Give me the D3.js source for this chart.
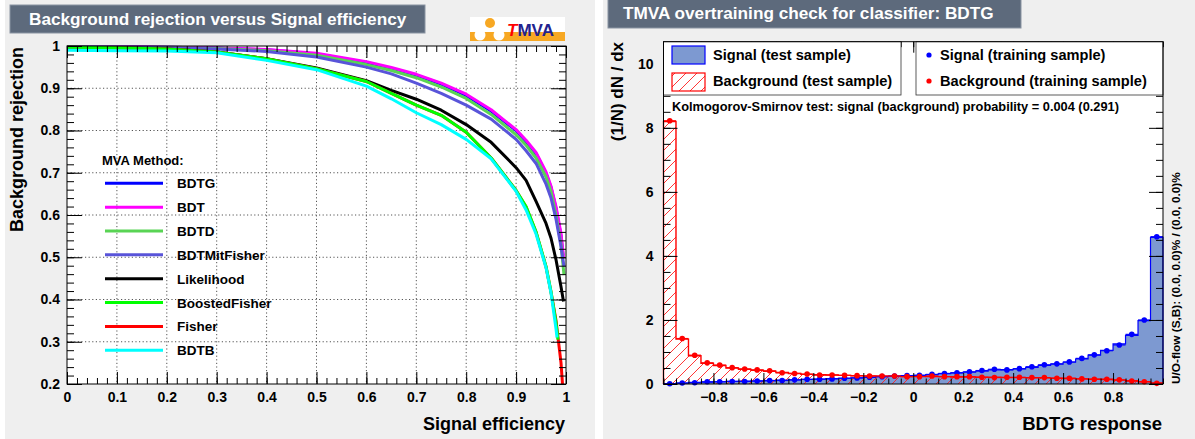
<!DOCTYPE html>
<html>
<head>
<meta charset="utf-8">
<script src="https://cdn.jsdelivr.net/npm/d3@7"></script>
<style>
  body { margin: 0; background: #fff; }
  text { font-family: "Liberation Sans", Arial, Helvetica, sans-serif; font-weight: bold; }
</style>
</head>
<body>
<div id="chart"></div>
<script>
// ---------- left: ROC curves ----------
const methods = ["BDTG", "BDT", "BDTD", "BDTMitFisher", "Likelihood", "BoostedFisher", "Fisher", "BDTB"];
const methodColors = ["#0000ff", "#ff00ff", "#59d454", "#5954d9", "#000000", "#00ff00", "#ff0000", "#00ffff"];
const drawOrder = [0, 1, 2, 3, 4, 6, 5, 7];

const rocEff = [0, 0.1, 0.2, 0.3, 0.4, 0.5, 0.6, 0.65, 0.7, 0.75, 0.8, 0.85, 0.9, 0.92, 0.94, 0.96, 0.97, 0.98, 0.99];
const rejBDTG = [0.999, 0.998, 0.997, 0.995, 0.991, 0.981, 0.961, 0.947, 0.931, 0.910, 0.883, 0.846, 0.800, 0.774, 0.745, 0.698, 0.665, 0.615, 0.550];
const rejBDT = [0.999, 0.998, 0.997, 0.995, 0.992, 0.983, 0.963, 0.949, 0.933, 0.912, 0.886, 0.849, 0.802, 0.777, 0.748, 0.702, 0.668, 0.620, 0.556];
const rejBDTD = [0.998, 0.997, 0.996, 0.994, 0.989, 0.978, 0.956, 0.942, 0.925, 0.903, 0.876, 0.838, 0.790, 0.765, 0.735, 0.690, 0.655, 0.600, 0.530];
const rejBDTMitFisher = [0.998, 0.997, 0.996, 0.993, 0.987, 0.974, 0.950, 0.934, 0.912, 0.888, 0.860, 0.827, 0.779, 0.752, 0.722, 0.673, 0.640, 0.590, 0.525];
const rejLikelihood = [0.997, 0.996, 0.993, 0.986, 0.970, 0.948, 0.918, 0.895, 0.874, 0.848, 0.814, 0.772, 0.712, 0.682, 0.632, 0.580, 0.545, 0.494, 0.430];
const rejBoostedFisher = [0.997, 0.996, 0.993, 0.986, 0.970, 0.946, 0.916, 0.888, 0.860, 0.836, 0.796, 0.735, 0.658, 0.620, 0.560, 0.478, 0.418, 0.345, null];
const rejFisher = [0.997, 0.996, 0.993, 0.986, 0.970, 0.946, 0.916, 0.888, 0.860, 0.836, 0.796, 0.735, 0.658, 0.619, 0.559, 0.477, 0.417, 0.350, 0.250];
const rejBDTB = [0.990, 0.989, 0.988, 0.984, 0.966, 0.944, 0.905, 0.875, 0.842, 0.814, 0.779, 0.733, 0.656, 0.612, 0.555, 0.475, 0.415, 0.330, null];
const rocEndEff = [0.994, 0.995, 0.996, 0.996, 0.995, 0.984, 0.993, 0.982];
const rocEndRej = [0.505, 0.500, 0.458, 0.478, 0.395, 0.305, 0.200, 0.310];
const rocRej = [rejBDTG, rejBDT, rejBDTD, rejBDTMitFisher, rejLikelihood, rejBoostedFisher, rejFisher, rejBDTB];

// ---------- right: overtraining check, 40 bins on [-1, 1] ----------
const sigTest = [0.01, 0.03, 0.05, 0.06, 0.07, 0.08, 0.09, 0.10, 0.10, 0.12, 0.13, 0.14, 0.15, 0.17, 0.18, 0.19, 0.21, 0.23, 0.24, 0.26,
                 0.27, 0.29, 0.32, 0.35, 0.37, 0.40, 0.44, 0.45, 0.47, 0.52, 0.58, 0.62, 0.68, 0.78, 0.90, 1.05, 1.25, 1.52, 1.98, 4.58];
const sigTrain = [0.01, 0.03, 0.04, 0.07, 0.07, 0.08, 0.08, 0.09, 0.11, 0.11, 0.13, 0.15, 0.15, 0.16, 0.18, 0.19, 0.21, 0.23, 0.25, 0.26,
                  0.27, 0.30, 0.33, 0.35, 0.38, 0.42, 0.46, 0.44, 0.48, 0.54, 0.60, 0.63, 0.69, 0.80, 0.91, 1.04, 1.22, 1.55, 2.00, 4.60];
const bkgTest = [8.20, 1.40, 0.88, 0.65, 0.58, 0.50, 0.46, 0.43, 0.40, 0.36, 0.33, 0.30, 0.29, 0.28, 0.27, 0.26, 0.25, 0.24, 0.24, 0.23,
                 0.24, 0.23, 0.23, 0.22, 0.22, 0.21, 0.21, 0.20, 0.20, 0.19, 0.19, 0.18, 0.17, 0.16, 0.15, 0.14, 0.12, 0.10, 0.07, 0.03];
const bkgTrain = [8.22, 1.42, 0.90, 0.66, 0.59, 0.51, 0.47, 0.44, 0.41, 0.35, 0.33, 0.31, 0.28, 0.28, 0.27, 0.26, 0.25, 0.25, 0.25, 0.23,
                  0.23, 0.25, 0.23, 0.23, 0.23, 0.21, 0.20, 0.21, 0.21, 0.20, 0.20, 0.18, 0.18, 0.16, 0.15, 0.15, 0.13, 0.09, 0.07, 0.02];
const ksText = "Kolmogorov-Smirnov test: signal (background) probability = 0.004 (0.291)";
const flowText = "U/O-flow (S,B): (0.0, 0.0)% / (0.0, 0.0)%";

const W = 1195, H = 439;
const svg = d3.select("#chart").append("svg").attr("width", W).attr("height", H);
svg.append("rect").attr("width", W).attr("height", H).attr("fill", "#ffffff");

// hatch pattern for background histogram
const defs = svg.append("defs");
defs.append("pattern").attr("id", "hatch").attr("patternUnits", "userSpaceOnUse")
  .attr("width", 11).attr("height", 11)
  .append("path").attr("d", "M-1,12 L12,-1 M-3,3 L3,-3 M8,14 L14,8")
  .attr("stroke", "#ff2020").attr("stroke-width", 0.9);

// panels
svg.append("rect").attr("x", 5).attr("y", 0).attr("width", 590).attr("height", H).attr("fill", "#efefef");
svg.append("rect").attr("x", 603).attr("y", 0).attr("width", W - 603).attr("height", H).attr("fill", "#efefef");

// titles
function titleBox(x, y, w, h, label, tx, ty) {
  svg.append("rect").attr("x", x).attr("y", y).attr("width", w).attr("height", h).attr("fill", "#5d6a7c")
    .attr("stroke", "#8a94a2").attr("stroke-width", 1);
  svg.append("text").attr("x", tx).attr("y", ty).attr("fill", "#fff").style("font-size", "17.2px").text(label);
}
titleBox(10, 5, 415, 28, "Background rejection versus Signal efficiency", 29, 25);
titleBox(608, -1, 413, 29, "TMVA overtraining check for classifier: BDTG", 623, 19);

// TMVA logo
const logo = svg.append("g");
logo.append("rect").attr("x", 470).attr("y", 17).attr("width", 95).attr("height", 24).attr("fill", "#fff");
logo.append("rect").attr("x", 470).attr("y", 32).attr("width", 95).attr("height", 9).attr("fill", "#f7a823");
logo.append("circle").attr("cx", 490).attr("cy", 23).attr("r", 5).attr("fill", "#f7a823");
logo.append("circle").attr("cx", 480).attr("cy", 35).attr("r", 5.5).attr("fill", "#fff");
logo.append("circle").attr("cx", 499).attr("cy", 35).attr("r", 5.5).attr("fill", "#fff");
const lt = logo.append("text").attr("x", 507).attr("y", 36).style("font-size", "17px");
lt.append("tspan").attr("fill", "#ff0000").style("font-style", "italic").text("T");
lt.append("tspan").attr("fill", "#23238e").text("MVA");

// ================= LEFT PLOT =================
const xL = d3.scaleLinear().domain([0, 1]).range([67, 566]);
const yL = d3.scaleLinear().domain([0.2, 1]).range([384, 46]);
const gL = svg.append("g");
gL.append("rect").attr("x", 67).attr("y", 46).attr("width", 499).attr("height", 338).attr("fill", "#fff");

// grid
const gridX = d3.range(1, 10).map(i => i / 10);
const gridY = d3.range(3, 10).map(i => i / 10);
gL.selectAll(".gx").data(gridX).join("line")
  .attr("x1", d => xL(d)).attr("x2", d => xL(d)).attr("y1", 46).attr("y2", 384)
  .attr("stroke", "#555").attr("stroke-dasharray", "1.2,2.4").attr("stroke-width", 1);
gL.selectAll(".gy").data(gridY).join("line")
  .attr("y1", d => yL(d)).attr("y2", d => yL(d)).attr("x1", 67).attr("x2", 566)
  .attr("stroke", "#555").attr("stroke-dasharray", "1.2,2.4").attr("stroke-width", 1);

// curves
const roc = d3.line().x(d => xL(d[0])).y(d => yL(d[1]));
drawOrder.forEach(i => {
  const pts = rocEff.map((e, j) => [e, rocRej[i][j]]).filter(d => d[1] !== null && d[0] < rocEndEff[i]);
  pts.push([rocEndEff[i], rocEndRej[i]]);
  gL.append("path").datum(pts).attr("d", roc).attr("fill", "none")
    .attr("stroke", methodColors[i]).attr("stroke-width", 3).attr("stroke-linejoin", "round");
});

// axes
function clean(g) { g.select(".domain").remove(); g.selectAll("text").attr("fill", "#000").style("font-size", "14px"); g.selectAll("line").attr("stroke", "#000"); }
const fmt1 = d => String(+d.toFixed(1));
gL.append("g").attr("transform", "translate(0,384)")
  .call(d3.axisBottom(xL).tickValues(d3.range(0, 11).map(i => i / 10)).tickSize(-12).tickPadding(8).tickFormat(fmt1)).call(clean);
gL.append("g").attr("transform", "translate(0,384)")
  .call(d3.axisBottom(xL).tickValues(d3.range(0, 51).map(i => i / 50)).tickSize(-6).tickFormat("")).call(clean);
gL.append("g").attr("transform", "translate(0,46)")
  .call(d3.axisTop(xL).tickValues(d3.range(0, 11).map(i => i / 10)).tickSize(-12).tickFormat("")).call(clean);
gL.append("g").attr("transform", "translate(0,46)")
  .call(d3.axisTop(xL).tickValues(d3.range(0, 51).map(i => i / 50)).tickSize(-6).tickFormat("")).call(clean);
gL.append("g").attr("transform", "translate(67,0)")
  .call(d3.axisLeft(yL).tickValues(d3.range(2, 11).map(i => i / 10)).tickSize(-15).tickPadding(7).tickFormat(fmt1)).call(clean);
gL.append("g").attr("transform", "translate(67,0)")
  .call(d3.axisLeft(yL).tickValues(d3.range(10, 51).map(i => i / 50)).tickSize(-7).tickFormat("")).call(clean);
gL.append("g").attr("transform", "translate(566,0)")
  .call(d3.axisRight(yL).tickValues(d3.range(2, 11).map(i => i / 10)).tickSize(-15).tickFormat("")).call(clean);
gL.append("g").attr("transform", "translate(566,0)")
  .call(d3.axisRight(yL).tickValues(d3.range(10, 51).map(i => i / 50)).tickSize(-7).tickFormat("")).call(clean);
gL.append("rect").attr("x", 67).attr("y", 46).attr("width", 499).attr("height", 338)
  .attr("fill", "none").attr("stroke", "#000").attr("stroke-width", 1);

svg.append("text").attr("transform", "translate(23,47) rotate(-90)").attr("text-anchor", "end")
  .style("font-size", "18px").text("Background rejection");
svg.append("text").attr("x", 565).attr("y", 430).attr("text-anchor", "end")
  .style("font-size", "18px").text("Signal efficiency");

// legend
const leg = gL.append("g");
leg.append("text").attr("x", 102).attr("y", 165).style("font-size", "13px").text("MVA Method:");
methods.forEach((m, i) => {
  const y = 183.3 + i * 23.85;
  leg.append("line").attr("x1", 105).attr("x2", 163).attr("y1", y).attr("y2", y)
    .attr("stroke", methodColors[i]).attr("stroke-width", 3);
  leg.append("text").attr("x", 177).attr("y", y + 5).style("font-size", "13.5px").text(m);
});

// ================= RIGHT PLOT =================
const xR = d3.scaleLinear().domain([-1, 1]).range([663.5, 1163]);
const yR = d3.scaleLinear().domain([0, 10.69]).range([384, 41.7]);
const gR = svg.append("g");
gR.append("rect").attr("x", 663.5).attr("y", 41.7).attr("width", 499.5).attr("height", 342.3).attr("fill", "#fff");

const nBins = sigTest.length, bw = 2 / nBins;
const lo = i => -1 + i * bw;
function stepPts(vals) {
  const p = [{ x: -1, v: 0 }];
  vals.forEach((v, i) => p.push({ x: lo(i), v }));
  p.push({ x: 1, v: vals[nBins - 1] });
  p.push({ x: 1, v: 0 });
  return p;
}
const stepArea = d3.area().curve(d3.curveStepAfter).x(d => xR(d.x)).y0(yR(0)).y1(d => yR(d.v));
const stepLine = d3.line().curve(d3.curveStepAfter).x(d => xR(d.x)).y(d => yR(d.v));

gR.append("path").datum(stepPts(sigTest)).attr("d", stepArea).attr("fill", "#7d99d1");
gR.append("path").datum(stepPts(sigTest)).attr("d", stepLine).attr("fill", "none").attr("stroke", "#0000ff").attr("stroke-width", 1.2);
gR.append("path").datum(stepPts(bkgTest)).attr("d", stepArea).attr("fill", "url(#hatch)");
gR.append("path").datum(stepPts(bkgTest)).attr("d", stepLine).attr("fill", "none").attr("stroke", "#ff0000").attr("stroke-width", 1.4);

function points(vals, color) {
  const g = gR.append("g");
  g.selectAll("line").data(vals).join("line")
    .attr("x1", (d, i) => xR(lo(i))).attr("x2", (d, i) => xR(lo(i) + bw))
    .attr("y1", d => yR(d)).attr("y2", d => yR(d)).attr("stroke", color).attr("stroke-width", 1.2);
  g.selectAll("circle").data(vals).join("circle")
    .attr("cx", (d, i) => xR(lo(i) + bw / 2)).attr("cy", d => yR(d)).attr("r", 2.8).attr("fill", color);
}
points(sigTrain, "#0000ff");
points(bkgTrain, "#ff0000");

// axes
const fmtR = d => d === 0 ? "0" : (d < 0 ? "\u2212" : "") + Math.abs(d).toFixed(1);
const majR = d3.range(-4, 5).map(i => i / 5);
const minR = d3.range(-20, 21).map(i => i / 20);
gR.append("g").attr("transform", "translate(0,384)")
  .call(d3.axisBottom(xR).tickValues(majR).tickSize(-11).tickPadding(8).tickFormat(fmtR)).call(clean);
gR.append("g").attr("transform", "translate(0,384)")
  .call(d3.axisBottom(xR).tickValues(minR).tickSize(-5.5).tickFormat("")).call(clean);
gR.append("g").attr("transform", "translate(0,41.7)")
  .call(d3.axisTop(xR).tickValues(majR).tickSize(-11).tickFormat("")).call(clean);
gR.append("g").attr("transform", "translate(0,41.7)")
  .call(d3.axisTop(xR).tickValues(minR).tickSize(-5.5).tickFormat("")).call(clean);
const majY = d3.range(0, 6).map(i => i * 2);
const minY = d3.range(0, 22).map(i => i / 2);
gR.append("g").attr("transform", "translate(663.5,0)")
  .call(d3.axisLeft(yR).tickValues(majY).tickSize(-14).tickPadding(10).tickFormat(d3.format("d"))).call(clean);
gR.append("g").attr("transform", "translate(663.5,0)")
  .call(d3.axisLeft(yR).tickValues(minY).tickSize(-7).tickFormat("")).call(clean);
gR.append("g").attr("transform", "translate(1163,0)")
  .call(d3.axisRight(yR).tickValues(majY).tickSize(-14).tickFormat("")).call(clean);
gR.append("g").attr("transform", "translate(1163,0)")
  .call(d3.axisRight(yR).tickValues(minY).tickSize(-7).tickFormat("")).call(clean);

// legends
const lg = gR.append("g");
lg.append("rect").attr("x", 663.5).attr("y", 41.7).attr("width", 237.5).attr("height", 53.3)
  .attr("fill", "#fff").attr("stroke", "#333").attr("stroke-width", 0.8);
lg.append("rect").attr("x", 916).attr("y", 41.7).attr("width", 247).attr("height", 53.3)
  .attr("fill", "#fff").attr("stroke", "#333").attr("stroke-width", 0.8);
lg.append("rect").attr("x", 672).attr("y", 46).attr("width", 33).attr("height", 18)
  .attr("fill", "#7d99d1").attr("stroke", "#0000ff").attr("stroke-width", 1.2);
lg.append("rect").attr("x", 672).attr("y", 73).attr("width", 33).attr("height", 18)
  .attr("fill", "url(#hatch)").attr("stroke", "#ff0000").attr("stroke-width", 1.2);
lg.append("text").attr("x", 713).attr("y", 60).style("font-size", "14.6px").text("Signal (test sample)");
lg.append("text").attr("x", 713).attr("y", 86).style("font-size", "14.6px").text("Background (test sample)");
lg.append("circle").attr("cx", 929).attr("cy", 55).attr("r", 2.6).attr("fill", "#0000ff");
lg.append("circle").attr("cx", 929).attr("cy", 81).attr("r", 2.6).attr("fill", "#ff0000");
lg.append("text").attr("x", 940).attr("y", 60).style("font-size", "14.6px").text("Signal (training sample)");
lg.append("text").attr("x", 940).attr("y", 86).style("font-size", "14.6px").text("Background (training sample)");
lg.append("text").attr("x", 672).attr("y", 111).style("font-size", "12.8px").text(ksText);

gR.append("rect").attr("x", 663.5).attr("y", 41.7).attr("width", 499.5).attr("height", 342.3)
  .attr("fill", "none").attr("stroke", "#000").attr("stroke-width", 1);

svg.append("text").attr("transform", "translate(623,42) rotate(-90)").attr("text-anchor", "end")
  .style("font-size", "17px").text("(1/N) dN / dx");
svg.append("text").attr("x", 1162).attr("y", 430).attr("text-anchor", "end")
  .style("font-size", "18.5px").text("BDTG response");
svg.append("text").attr("transform", "translate(1180,384) rotate(-90)").attr("text-anchor", "start")
  .style("font-size", "11.8px").text(flowText);
</script>
</body>
</html>
